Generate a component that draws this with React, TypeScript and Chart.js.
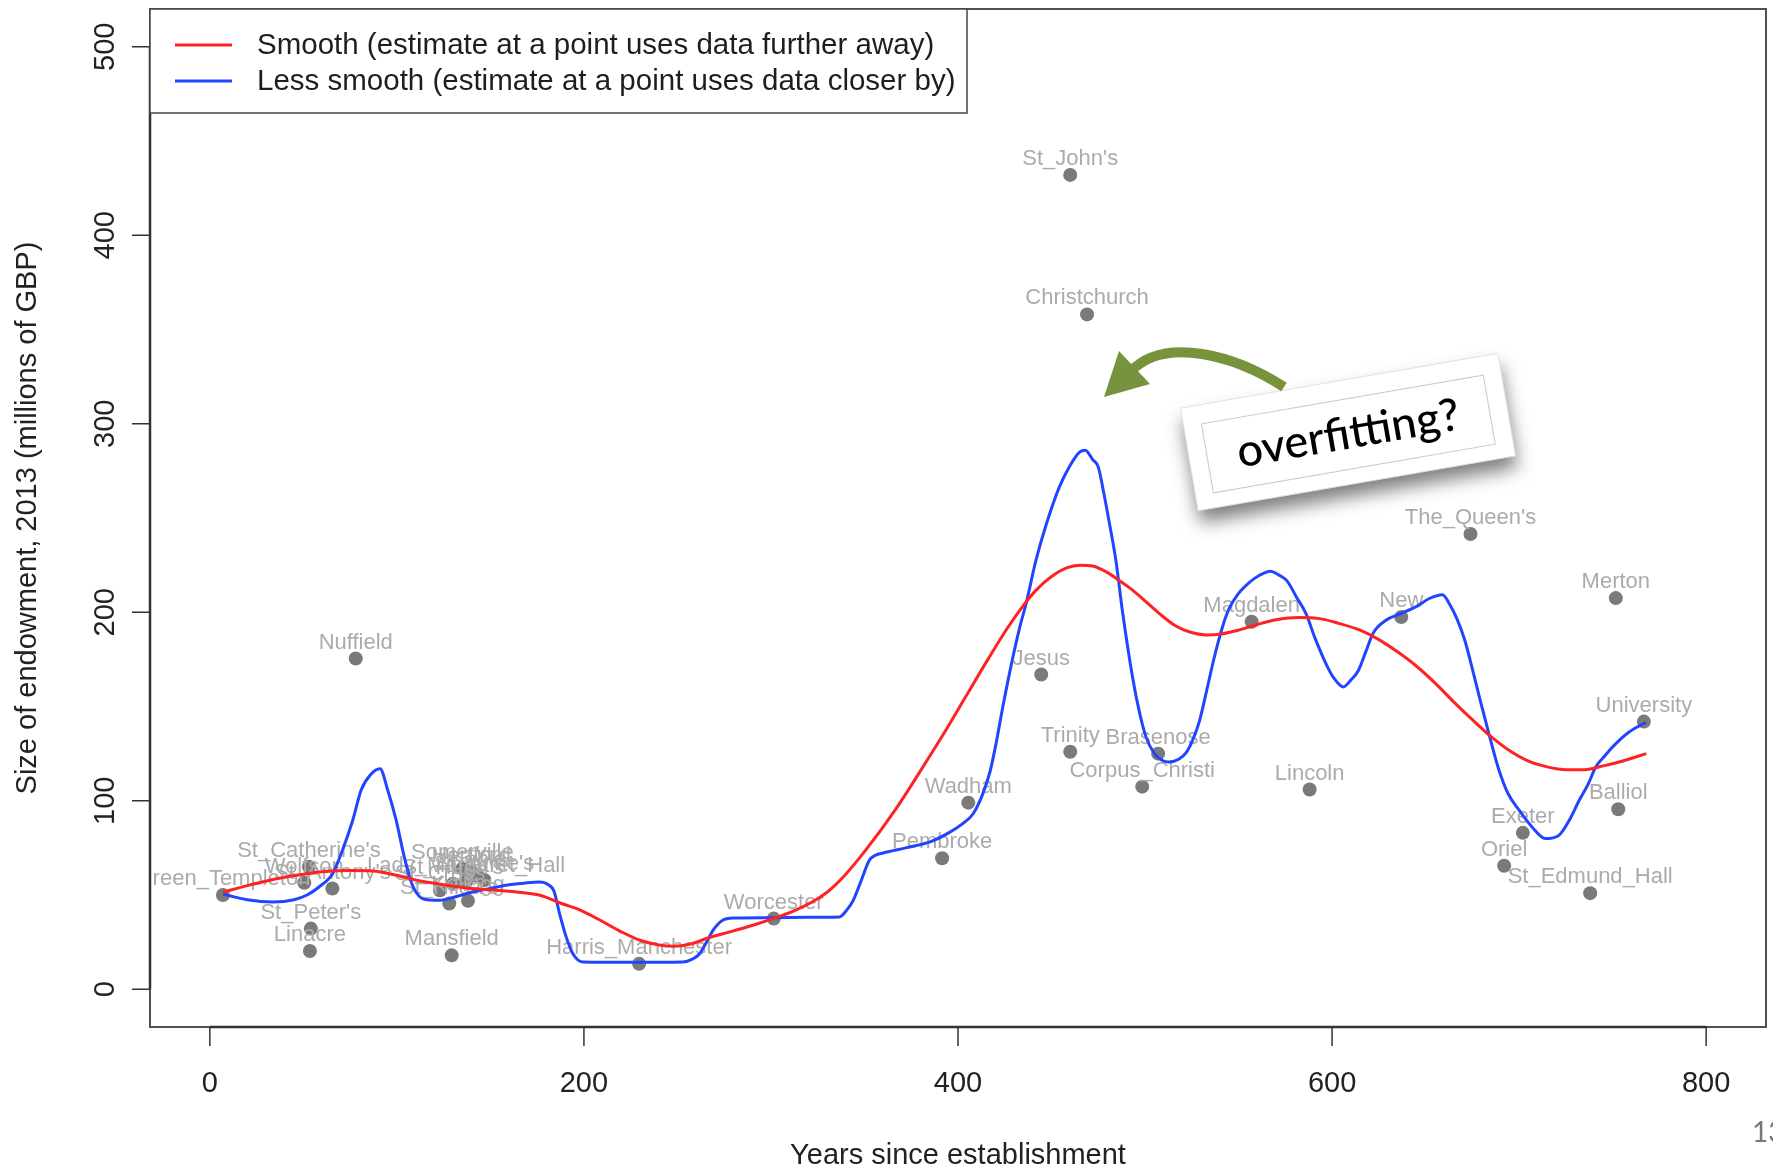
import React, { useEffect, useRef } from "react";
import { Chart, registerables } from "chart.js";

Chart.register(...registerables);

// ---------------- data ----------------
const collegeNames = [
  "Green_Templeton", "St_Catherine's", "Wolfson", "St_Antony's", "St_Peter's", "Linacre",
  "Nuffield", "Mansfield", "Somerville", "Hertford", "Keble", "St_Anne's",
  "Lady_Margaret_Hall", "St_Hugh's", "St_Cross", "St_Hilda's", "Kellogg",
  "Harris_Manchester", "Worcester", "Pembroke", "Wadham", "Jesus", "St_John's",
  "Trinity", "Christchurch", "Corpus_Christi", "Brasenose", "Magdalen", "Lincoln",
  "New", "The_Queen's", "Oriel", "Exeter", "St_Edmund_Hall", "Balliol", "Merton", "University",
];
const collegeAge = [
  7, 53, 50.5, 65.5, 54, 53.5,
  78, 129.3, 135, 139.7, 143.3, 146.8,
  137, 130, 123, 128, 138,
  229.5, 301.5, 391.5, 405.5, 444.5, 460,
  460, 469, 498.5, 507, 557, 588,
  637, 674, 692, 702, 738, 753, 751.7, 766.7,
];
const collegeEndowment = [
  50, 65, 56.5, 53.5, 32.2, 20.3,
  175.5, 18, 64, 62.5, 60, 58,
  57, 56, 52.5, 45.5, 47,
  13.5, 37.5, 69.5, 99, 167, 432,
  126, 358, 107.5, 125, 195, 106,
  197.5, 241.5, 65.5, 83, 51, 95.5, 207.5, 142,
];

const smoothAge = [
  7, 20, 35, 50, 60, 75, 87, 100, 110, 125, 140, 160, 176, 188, 198, 208, 220, 230, 240, 248,
  257, 265, 280, 292, 301, 312, 322, 330, 337, 350, 367, 380, 392, 404, 416, 426, 434.5, 442,
  450, 458, 465, 472, 480, 486, 493, 500, 508, 516, 524, 532.6, 541, 550, 560, 570, 582, 594,
  604, 615, 625, 635, 645, 655, 665, 675, 685, 695, 705, 715, 725, 735, 745, 755, 768,
];
const smoothEndowment = [
  51.5, 55, 58.5, 61, 62.3, 63, 62.8, 60.5, 58, 55.5, 53.5, 52, 50, 45.5, 42, 37, 30.5, 26, 23.5, 22.8,
  24, 26.8, 31, 34.5, 37.5, 41.5, 46.3, 51.5, 57.8, 73, 96, 116, 135, 155, 175, 191, 203, 212,
  219, 223.5, 225, 224.5, 221, 217, 212, 206, 199, 193, 189.5, 188, 188.5, 190.5, 193.5, 196, 197.2, 196.5,
  194, 190.5, 185.5, 179, 171.5, 162.5, 152.5, 143, 134, 126.5, 121, 118, 116.5, 116.5, 118.5, 121, 125,
];

const lessSmoothAge = [
  7, 20, 34, 45, 52, 58, 65.7, 71, 76.4, 81, 86, 91, 95, 99.6, 104, 108, 113, 118, 123, 131,
  140.6, 150, 158.4, 168, 176.2, 181, 184, 187, 190.5, 194, 199.4, 225, 252.8, 258, 262, 265.5, 269, 274, 280, 300,
  320, 336.6, 340.5, 344, 348, 352.6, 356, 360, 372, 385, 395, 402, 408, 413, 417, 420, 424, 429, 433, 436.5,
  441.7, 447, 454, 460, 465, 468, 472, 475, 478, 481, 484.4, 488, 493.3, 497, 500.5, 505, 509, 513, 518, 522,
  525.4, 529, 532.6, 537, 541.4, 545, 550, 556, 561, 567, 572, 576, 581, 586, 591, 596.7, 601, 606, 610, 614,
  618, 622, 628.8, 636, 645, 652, 659, 663, 667, 671, 675, 679, 684, 689, 694, 700, 707, 714, 721, 727,
  732, 737, 741, 746, 750, 758.8, 767.7,
];
const lessSmoothEndowment = [
  50.5, 47.5, 46.3, 47.5, 50, 54, 61.4, 74, 89.7, 106, 114, 117, 106, 89.7, 70, 56, 48.5, 47.3, 47.2, 49,
  51.6, 53.5, 55.2, 56.3, 56.9, 55.5, 52, 40, 27.8, 19, 14.5, 14.3, 14.5, 16, 19, 25, 31.3, 36.5, 37.8, 38,
  38.2, 38.4, 42, 47.2, 57, 68.4, 71.2, 72.3, 75, 78.2, 83, 87.5, 93, 103, 115, 128.6, 150, 174.6, 192, 205,
  227.6, 246, 266, 278, 285, 286, 281, 277, 263, 247, 227.6, 200, 165.7, 147, 133.9, 125, 121.5, 120.6, 122, 125.5,
  132, 142, 156.9, 176, 192.2, 202, 210, 216, 219.5, 221.8, 219.5, 216.5, 208, 199.4, 186, 172.8, 165, 160.4, 164, 169,
  179, 189, 195.8, 199, 203, 207.3, 209.3, 204, 196, 185, 170, 154, 135, 117, 104, 95, 86, 80, 81.5, 90,
  100, 109, 118, 124, 128.6, 136.5, 141.5,
];

const xTickValues = [0, 200, 400, 600, 800];
const yTickValues = [0, 100, 200, 300, 400, 500];
const legendLabels = [
  "Smooth (estimate at a point uses data further away)",
  "Less smooth (estimate at a point uses data closer by)",
];
const legendColors = ["#ff2222", "#2244ff"];
const xAxisTitle = "Years since establishment";
const yAxisTitle = "Size of endowment, 2013 (millions of GBP)";
const calloutText = "overfitting?";
const pageNumber = "13";

const FONT = '"Liberation Sans", Arial, Helvetica, sans-serif';

const overlayPlugin = {
  id: "overlay",
  afterDatasetDraw(chart: any, args: any) {
    if (args.index !== 2) return;
    const { ctx, chartArea: a, scales } = chart;
    const x = scales.x;
    const y = scales.y;
    ctx.save();
    ctx.beginPath();
    ctx.rect(a.left, a.top, a.right - a.left, a.bottom - a.top);
    ctx.clip();
    ctx.font = `22px ${FONT}`;
    ctx.fillStyle = "#ababab";
    ctx.textAlign = "center";
    ctx.textBaseline = "middle";
    collegeNames.forEach((n, i) => {
      ctx.fillText(n, x.getPixelForValue(collegeAge[i]), y.getPixelForValue(collegeEndowment[i]) - 16);
    });
    ctx.restore();
  },
  afterDraw(chart: any) {
    const { ctx, chartArea: a, scales } = chart;
    const x = scales.x;
    const y = scales.y;
    ctx.save();
    // box
    ctx.strokeStyle = "#505050";
    ctx.lineWidth = 2;
    ctx.strokeRect(a.left, a.top, a.right - a.left, a.bottom - a.top);
    // axes lines
    ctx.strokeStyle = "#333";
    ctx.lineWidth = 2.5;
    ctx.beginPath();
    ctx.moveTo(a.left, y.getPixelForValue(yTickValues[0]));
    ctx.lineTo(a.left, y.getPixelForValue(yTickValues[yTickValues.length - 1]));
    ctx.moveTo(x.getPixelForValue(xTickValues[0]), a.bottom);
    ctx.lineTo(x.getPixelForValue(xTickValues[xTickValues.length - 1]), a.bottom);
    ctx.stroke();
    // ticks
    ctx.lineWidth = 1.5;
    ctx.beginPath();
    yTickValues.forEach((v) => {
      const py = y.getPixelForValue(v);
      ctx.moveTo(a.left, py);
      ctx.lineTo(a.left - 18, py);
    });
    xTickValues.forEach((v) => {
      const px = x.getPixelForValue(v);
      ctx.moveTo(px, a.bottom);
      ctx.lineTo(px, a.bottom + 19);
    });
    ctx.stroke();
    // tick labels
    ctx.fillStyle = "#222";
    ctx.font = `29px ${FONT}`;
    ctx.textAlign = "center";
    ctx.textBaseline = "middle";
    xTickValues.forEach((v) => {
      ctx.fillText(String(v), x.getPixelForValue(v), 1084);
    });
    yTickValues.forEach((v) => {
      ctx.save();
      ctx.translate(106, y.getPixelForValue(v));
      ctx.rotate(-Math.PI / 2);
      ctx.fillText(String(v), 0, 0);
      ctx.restore();
    });
    // titles
    ctx.fillText(xAxisTitle, (a.left + a.right) / 2, 1156);
    ctx.save();
    ctx.translate(28, (a.top + a.bottom) / 2);
    ctx.rotate(-Math.PI / 2);
    ctx.fillText(yAxisTitle, 0, 0);
    ctx.restore();

    // legend
    ctx.fillStyle = "#fff";
    ctx.fillRect(a.left, a.top, 817, 104);
    ctx.strokeStyle = "#454545";
    ctx.lineWidth = 1.5;
    ctx.strokeRect(a.left, a.top, 817, 104);
    const rows = [45, 81];
    legendLabels.forEach((t, i) => {
      ctx.strokeStyle = legendColors[i];
      ctx.lineWidth = 3;
      ctx.beginPath();
      ctx.moveTo(175, rows[i]);
      ctx.lineTo(232, rows[i]);
      ctx.stroke();
      ctx.fillStyle = "#1e1e1e";
      ctx.textAlign = "left";
      ctx.font = `29.5px ${FONT}`;
      ctx.fillText(t, 257, rows[i] + 1);
    });

    // callout card
    ctx.save();
    ctx.translate(1348, 432);
    ctx.rotate((-9.8 * Math.PI) / 180);
    ctx.shadowColor = "rgba(0,0,0,0.5)";
    ctx.shadowBlur = 18;
    ctx.shadowOffsetY = 12;
    ctx.shadowOffsetX = 2;
    ctx.fillStyle = "#ffffff";
    ctx.fillRect(-161, -52, 322, 104);
    ctx.shadowColor = "transparent";
    ctx.strokeStyle = "#e2e2e2";
    ctx.lineWidth = 1;
    ctx.strokeRect(-161, -52, 322, 104);
    ctx.strokeStyle = "#c8c8c8";
    ctx.strokeRect(-143, -33, 286, 70);
    ctx.fillStyle = "#000";
    ctx.font = '500 45px Lato, "Open Sans", sans-serif';
    ctx.textAlign = "center";
    ctx.textBaseline = "middle";
    ctx.fillText(calloutText, 0, 2);
    ctx.restore();

    // green arrow
    ctx.strokeStyle = "#77933c";
    ctx.fillStyle = "#77933c";
    ctx.lineWidth = 10;
    ctx.beginPath();
    ctx.moveTo(1284, 387);
    ctx.bezierCurveTo(1236, 356, 1165, 335, 1130, 372);
    ctx.stroke();
    ctx.beginPath();
    ctx.moveTo(1104, 397);
    ctx.lineTo(1119, 351);
    ctx.lineTo(1150, 384);
    ctx.closePath();
    ctx.fill();

    // page number
    ctx.fillStyle = "#777";
    ctx.font = '28px Lato, sans-serif';
    ctx.textAlign = "left";
    ctx.fillText(pageNumber, 1752, 1133);
    ctx.restore();
  },
};

export default function App() {
  const canvasRef = useRef<HTMLCanvasElement | null>(null);

  useEffect(() => {
    const canvas = canvasRef.current;
    if (!canvas) return;
    const chart = new Chart(canvas, {
      type: "scatter",
      data: {
        datasets: [
          {
            label: legendLabels[0],
            data: smoothAge.map((v, i) => ({ x: v, y: smoothEndowment[i] })),
            showLine: true,
            borderColor: legendColors[0],
            borderWidth: 3,
            pointRadius: 0,
            cubicInterpolationMode: "monotone",
          },
          {
            label: legendLabels[1],
            data: lessSmoothAge.map((v, i) => ({ x: v, y: lessSmoothEndowment[i] })),
            showLine: true,
            borderColor: legendColors[1],
            borderWidth: 3,
            pointRadius: 0,
            cubicInterpolationMode: "monotone",
          },
          {
            label: "Colleges",
            data: collegeAge.map((v, i) => ({ x: v, y: collegeEndowment[i] })),
            pointRadius: 7,
            pointBackgroundColor: "#7a7a7a",
            pointBorderWidth: 0,
            showLine: false,
          },
        ],
      },
      options: {
        responsive: false,
        animation: false,
        devicePixelRatio: 1,
        events: [],
        layout: { padding: { left: 150, top: 9, right: 6, bottom: 140 } },
        plugins: { legend: { display: false }, tooltip: { enabled: false } },
        scales: {
          x: { type: "linear", display: false, min: -32, max: 832 },
          y: { type: "linear", display: false, min: -20, max: 520 },
        },
      },
      plugins: [overlayPlugin],
    } as any);
    return () => chart.destroy();
  }, []);

  return (
    <div style={{ position: "fixed", left: 0, top: 0, width: 1773, height: 1167, background: "#fff" }}>
      <canvas ref={canvasRef} width={1773} height={1167} style={{ display: "block" }} />
    </div>
  );
}
